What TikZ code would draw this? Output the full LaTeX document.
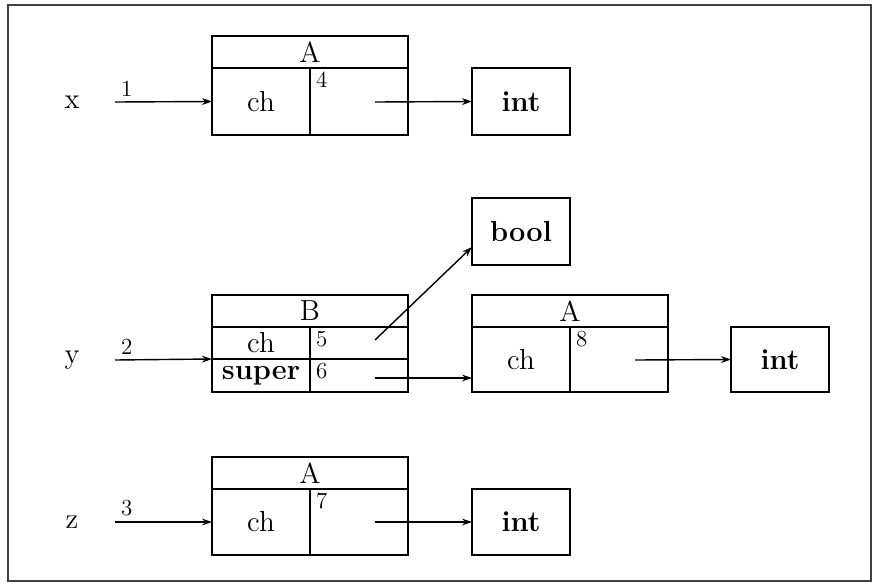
\documentclass[tikz,border=0pt]{standalone}
\usetikzlibrary{arrows.meta}
\begin{document}
\begin{tikzpicture}[x=0.5pt,y=-0.5pt,
  every node/.style={font=\fontsize{14.5}{16}\selectfont, inner sep=0pt, outer sep=0pt},
  hdr/.style={draw, line width=0.7pt, minimum width=98pt, minimum height=16pt, text depth=-1pt},
  cell/.style={draw, line width=0.7pt, minimum width=49pt},
  tbox/.style={draw, line width=0.7pt, minimum width=49pt, minimum height=33.5pt, font=\fontsize{14.5}{16}\selectfont\bfseries},
  num/.style={font=\fontsize{11.5}{12}\selectfont},
  sep/.style={line width=1.3pt},
  arr/.style={line width=0.7pt, -{Stealth[length=5pt,width=3.4pt]}}
]
\useasboundingbox (0,0) rectangle (874,584);
\draw[line width=1pt, black!75] (8,5) rectangle (871,581);

% ---- record x
\node[hdr] (xh) at (310,52) {A};
\node[cell, minimum height=33.5pt] (xl) at (261,101.5) {ch};
\node[cell, minimum height=33.5pt] (xr) at (359,101.5) {};
\draw[sep] (xh.south west) -- (xh.south east);
\draw[sep] (xr.north west) -- (xr.south west);
\node[num, anchor=north west] (x4) at ([xshift=3pt,yshift=-2pt]xr.north west) {4};
\node[tbox] (int1) at (521,101.5) {int};
\node (lx) at (72,102) {x};
\coordinate (sx) at (115,102);
\node[num, anchor=south west] (n1) at ([xshift=3pt,yshift=3pt]sx) {1};
\draw[arr] (sx) -- (xl.west);
\coordinate (px) at (375,102);
\draw[arr] (px) -- (int1.west);

% ---- record y (B)
\node[hdr] (bh) at (310,311) {B};
\node[cell, minimum height=16pt] (bcl) at (261,343) {ch};
\node[cell, minimum height=16pt] (bcr) at (359,343) {};
\node[cell, minimum height=16.5pt, font=\fontsize{14.5}{16}\selectfont\bfseries] (bsl) at (261,375.5) {super};
\node[cell, minimum height=16.5pt] (bsr) at (359,375.5) {};
\draw[sep] (bh.south west) -- (bh.south east);
\draw[sep] (bcl.south west) -- (bsr.north east);
\draw[sep] (bcr.north west) -- (bsr.south west);
\node[num, anchor=north west] (b5) at ([xshift=3pt,yshift=-2pt]bcr.north west) {5};
\node[num, anchor=north west] (b6) at ([xshift=3pt,yshift=-2pt]bsr.north west) {6};
\node[tbox] (bool) at (521,231.5) {bool};
\node (ly) at (72,360) {y};
\coordinate (sy) at (115,360);
\node[num, anchor=south west] (n2) at ([xshift=3pt,yshift=3pt]sy) {2};
\draw[arr] (sy) -- (bcl.south west);
\coordinate (p5) at (375,340);
\draw[arr] (p5) -- ([yshift=9pt]bool.south west);

% ---- record A (super part)
\node[hdr] (ah) at (570,311) {A};
\node[cell, minimum height=32.5pt] (al) at (521,359.5) {ch};
\node[cell, minimum height=32.5pt] (ar) at (619,359.5) {};
\draw[sep] (ah.south west) -- (ah.south east);
\draw[sep] (ar.north west) -- (ar.south west);
\node[num, anchor=north west] (a8) at ([xshift=3pt,yshift=-2pt]ar.north west) {8};
\coordinate (p6) at (375,378);
\draw[arr] (p6) -- (p6 -| al.west);
\node[tbox, minimum height=32.5pt] (int2) at (780,359.5) {int};
\coordinate (p8) at (635,360);
\draw[arr] (p8) -- (int2.west);

% ---- record z
\node[hdr] (zh) at (310,473) {A};
\node[cell, minimum height=33pt] (zl) at (261,522) {ch};
\node[cell, minimum height=33pt] (zr) at (359,522) {};
\draw[sep] (zh.south west) -- (zh.south east);
\draw[sep] (zr.north west) -- (zr.south west);
\node[num, anchor=north west] (z7) at ([xshift=3pt,yshift=-2pt]zr.north west) {7};
\node[tbox, minimum height=33pt] (int3) at (521,522) {int};
\node (lz) at (72,522) {z};
\coordinate (sz) at (115,522);
\node[num, anchor=south west] (n3) at ([xshift=3pt,yshift=3pt]sz) {3};
\draw[arr] (sz) -- (zl.west);
\coordinate (pz) at (375,522);
\draw[arr] (pz) -- (int3.west);
\end{tikzpicture}
\end{document}
